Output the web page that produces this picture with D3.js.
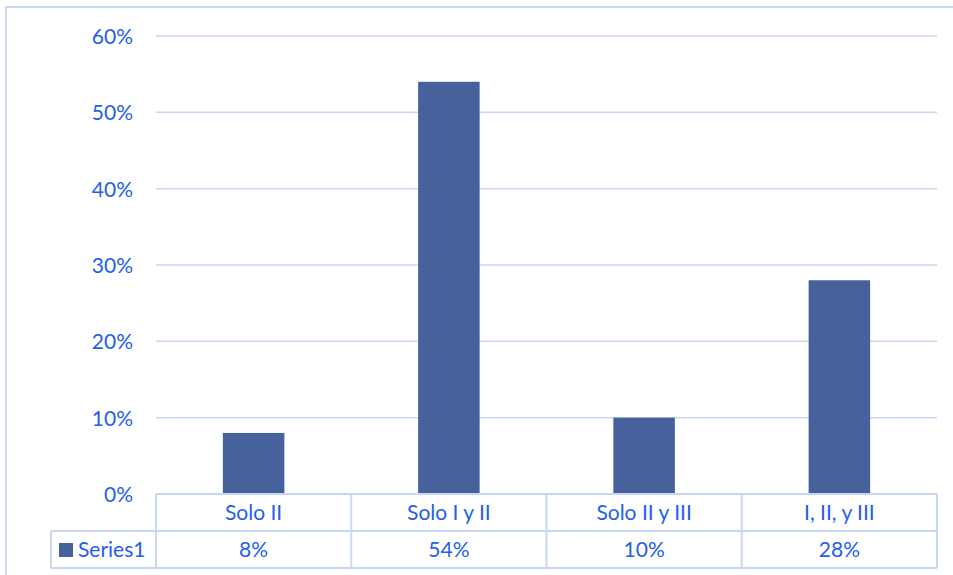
<!DOCTYPE html>
<html>
<head>
<meta charset="utf-8">
<script src="https://cdn.jsdelivr.net/npm/d3@7"></script>
<style>
  html, body { margin: 0; padding: 0; background: #fff; }
  svg { display: block; }
  text { font-family: Lato, "Open Sans", sans-serif; }
</style>
</head>
<body>
<svg id="chart" width="953" height="575"></svg>
<script>
// Categories and values (share of answers)
const categories = ["Solo II", "Solo I y II", "Solo II y III", "I, II, y III"];
const values = [0.08, 0.54, 0.10, 0.28];
const seriesName = "Series1";
const yTicks = [0, 0.1, 0.2, 0.3, 0.4, 0.5, 0.6];

const textColor = "#2360ec";
const barColor = "#46619c";
const lineColor = "#c8d7f6";
const fontSize = 21;

const svg = d3.select("#chart");

// Outer chart frame
svg.append("rect")
  .attr("x", 6).attr("y", 7)
  .attr("width", 960).attr("height", 600)
  .attr("fill", "none").attr("stroke", lineColor).attr("stroke-width", 2);

const plot = { left: 156, right: 937, top: 36, bottom: 494 };

const x = d3.scaleBand().domain(categories).range([plot.left, plot.right]).paddingInner(0).paddingOuter(0);
const y = d3.scaleLinear().domain([0, 0.6]).range([plot.bottom, plot.top]);

// Gridlines
svg.append("g").selectAll("line").data(yTicks).join("line")
  .attr("x1", plot.left).attr("x2", plot.right)
  .attr("y1", d => y(d)).attr("y2", d => y(d))
  .attr("stroke", lineColor).attr("stroke-width", 1.5);

// Y axis labels
const yAxis = d3.axisLeft(y).tickValues(yTicks).tickFormat(d3.format(".0%")).tickSize(0).tickPadding(0);
const gy = svg.append("g").attr("transform", `translate(133,0)`).call(yAxis);
gy.select(".domain").remove();
gy.selectAll("text")
  .attr("fill", textColor).attr("font-size", fontSize).attr("dy", "0.35em")
  .style("font-family", "Lato, 'Open Sans', sans-serif");

// Bars
const barW = x.bandwidth() * 0.315;
svg.append("g").selectAll("rect").data(categories).join("rect")
  .attr("x", (d) => x(d) + (x.bandwidth() - barW) / 2)
  .attr("width", barW)
  .attr("y", (d, i) => y(values[i]))
  .attr("height", (d, i) => y(0) - y(values[i]))
  .attr("fill", barColor);

// Data table below the plot
const row1Top = plot.bottom, row1Bot = 531, row2Bot = 568;
const legendLeft = 51;
const table = svg.append("g").attr("stroke", lineColor).attr("stroke-width", 2).attr("fill", "none");
// horizontal lines
table.append("line").attr("x1", plot.left).attr("x2", plot.right).attr("y1", row1Top).attr("y2", row1Top);
table.append("line").attr("x1", legendLeft).attr("x2", plot.right).attr("y1", row1Bot).attr("y2", row1Bot);
table.append("line").attr("x1", legendLeft).attr("x2", plot.right).attr("y1", row2Bot).attr("y2", row2Bot);
// vertical lines
table.append("line").attr("x1", legendLeft).attr("x2", legendLeft).attr("y1", row1Bot).attr("y2", row2Bot);
const colEdges = categories.map(c => x(c)).concat([plot.right]);
table.selectAll("line.v").data(colEdges).join("line").attr("class", "v")
  .attr("x1", d => d).attr("x2", d => d).attr("y1", row1Top).attr("y2", row2Bot);

// Category labels
svg.append("g").selectAll("text").data(categories).join("text")
  .attr("x", d => x(d) + x.bandwidth() / 2)
  .attr("y", (row1Top + row1Bot) / 2)
  .attr("dy", "0.35em").attr("text-anchor", "middle")
  .attr("fill", textColor).attr("font-size", fontSize)
  .text(d => d);

// Value row
svg.append("g").selectAll("text").data(values).join("text")
  .attr("x", (d, i) => x(categories[i]) + x.bandwidth() / 2)
  .attr("y", (row1Bot + row2Bot) / 2)
  .attr("dy", "0.35em").attr("text-anchor", "middle")
  .attr("fill", textColor).attr("font-size", fontSize)
  .text(d => d3.format(".0%")(d));

// Legend key + series name
svg.append("rect").attr("x", 59).attr("y", 543).attr("width", 14).attr("height", 14).attr("fill", barColor);
svg.append("text").attr("x", 78).attr("y", (row1Bot + row2Bot) / 2).attr("dy", "0.35em")
  .attr("fill", textColor).attr("font-size", fontSize).text(seriesName);
</script>
</body>
</html>
